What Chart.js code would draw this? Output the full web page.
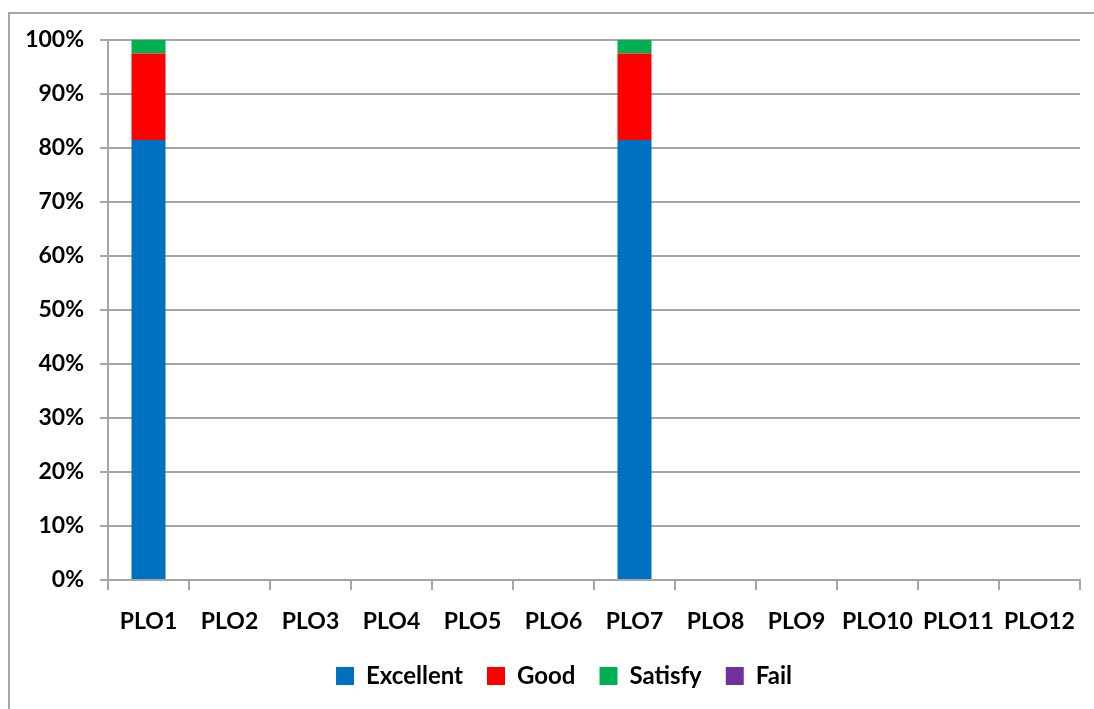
<!DOCTYPE html>
<html><head><meta charset="utf-8">
<script src="https://cdn.jsdelivr.net/npm/chart.js@4/dist/chart.umd.min.js"></script>
<style>
html,body{margin:0;padding:0;background:#fff;overflow:hidden;}
#wrap{position:relative;width:1094px;height:709px;}
#frame{position:absolute;left:8px;top:12px;width:1200px;height:800px;border:2px solid #a6a6a6;box-sizing:border-box;}
canvas{position:absolute;left:0;top:0;}
</style></head>
<body>
<div id="wrap"><div id="frame"></div><canvas id="c" width="1094" height="709"></canvas></div>
<script>
const categories = ['PLO1','PLO2','PLO3','PLO4','PLO5','PLO6','PLO7','PLO8','PLO9','PLO10','PLO11','PLO12'];
const excellent = [81.5,0,0,0,0,0,81.5,0,0,0,0,0];
const good      = [16.0,0,0,0,0,0,16.0,0,0,0,0,0];
const satisfy   = [2.5,0,0,0,0,0,2.5,0,0,0,0,0];
const fail      = [0,0,0,0,0,0,0,0,0,0,0,0];
const seriesNames = ['Excellent','Good','Satisfy','Fail'];
const seriesColors = ['#0070C0','#FF0000','#00B050','#7030A0'];
const yTicks = [0,10,20,30,40,50,60,70,80,90,100];

const font = {family:'Lato, "Open Sans", sans-serif', size:23, weight:'bold'};
const legendFont = {family:'Lato, "Open Sans", sans-serif', size:24, weight:'bold'};
const gridColor = '#a6a6a6';

const shiftLegend = {id:'shiftLegend', afterLayout(chart){ chart.legend.left += 24; chart.legend.right += 24; }};

new Chart(document.getElementById('c'), {
  type:'bar',
  data:{
    labels:categories,
    datasets:[excellent,good,satisfy,fail].map((d,i)=>({
      label:seriesNames[i], data:d, backgroundColor:seriesColors[i],
      borderWidth:0, categoryPercentage:1, barPercentage:0.42
    }))
  },
  plugins:[shiftLegend],
  options:{
    responsive:false, animation:false, maintainAspectRatio:false,
    layout:{padding:{top:40,right:14,left:0,bottom:11}},
    plugins:{
      tooltip:{enabled:false},
      legend:{position:'bottom', labels:{font:legendFont, color:'#000', boxWidth:18, boxHeight:18, padding:24}}
    },
    scales:{
      x:{stacked:true,
        grid:{drawOnChartArea:false, drawTicks:true, tickLength:10, color:gridColor, lineWidth:2, offset:true},
        border:{display:true,color:gridColor,width:2},
        ticks:{font:font, color:'#000', padding:18, maxRotation:0, autoSkip:false},
        afterFit:(s)=>{s.height=60;}
      },
      y:{stacked:true, min:0, max:100,
        afterBuildTicks:(s)=>{s.ticks=yTicks.map(v=>({value:v}));},
        grid:{color:gridColor, lineWidth:2, tickLength:8, drawTicks:true},
        border:{display:true,color:gridColor,width:2},
        ticks:{font:font, color:'#000', padding:16, callback:(v)=>v+'%'},
        afterFit:(s)=>{s.width=108;}
      }
    }
  }
});
</script>
</body></html>
